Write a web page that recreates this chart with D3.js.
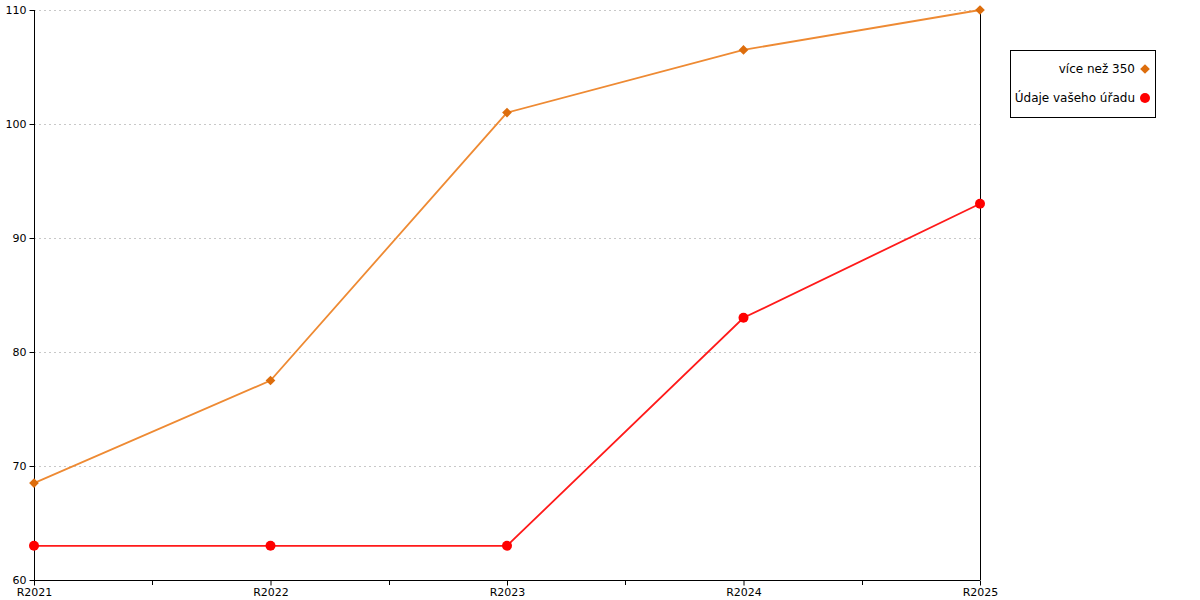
<!DOCTYPE html>
<html><head><meta charset="utf-8">
<script src="https://cdn.jsdelivr.net/npm/d3@7"></script>
<style>body{margin:0;background:#fff}svg{display:block}</style>
</head><body>
<svg id="c" width="1200" height="600"></svg>
<script>
const categories = ["R2021","R2022","R2023","R2024","R2025"];
const seriesNames = ["více než 350","Údaje vašeho úřadu"];
const orangeValues = [68.5, 77.5, 101, 106.5, 110];
const redValues = [63, 63, 63, 83, 93];
const yTicks = [60,70,80,90,100,110];

const svg = d3.select("#c");
const L=34,R=980,T=10,B=580;
const font = "DejaVu Sans, Verdana, sans-serif";
const x = d3.scalePoint().domain(categories).range([L,R]);
const y = d3.scaleLinear().domain([60,110]).range([B,T]);

// grid
svg.append("g").selectAll("line").data(yTicks.filter(d=>d>60)).join("line")
  .attr("x1",L).attr("x2",R).attr("y1",d=>y(d)+0.5).attr("y2",d=>y(d)+0.5)
  .attr("stroke","#c8c8c8").attr("stroke-dasharray","2,3");

// y axis
const ya = svg.append("g").attr("transform",`translate(${L+0.5},0)`)
  .call(d3.axisLeft(y).tickValues(yTicks).tickSize(5).tickPadding(3));
ya.select(".domain").attr("d",`M0,${T}V${B}`);
ya.selectAll("text").style("font-family",font).style("font-size","11px").attr("fill","#000");

// right line
svg.append("line").attr("x1",R+0.5).attr("x2",R+0.5).attr("y1",T).attr("y2",B).attr("stroke","#000");

// x axis
const xa = svg.append("g").attr("transform",`translate(0,${B+0.5})`)
  .call(d3.axisBottom(x).tickSize(5).tickPadding(3));
xa.select(".domain").attr("d",`M${L},0H${R}`);
xa.selectAll("text").style("font-family",font).style("font-size","11px").attr("fill","#000");
// minor ticks
const mids = categories.slice(0,-1).map((c,i)=>(x(c)+x(categories[i+1]))/2);
svg.append("g").selectAll("line").data(mids).join("line")
  .attr("x1",d=>Math.round(d)+0.5).attr("x2",d=>Math.round(d)+0.5).attr("y1",B).attr("y2",B+5).attr("stroke","#000");

const line = d3.line().x((d,i)=>x(categories[i])).y(d=>y(d));
svg.append("path").datum(orangeValues).attr("d",line).attr("fill","none").attr("stroke","#ee8a33").attr("stroke-width",1.8);
svg.append("path").datum(redValues).attr("d",line).attr("fill","none").attr("stroke","#ff1a1a").attr("stroke-width",1.8);

const diamond = d3.symbol().type(d3.symbolDiamond2).size(60);
svg.append("g").selectAll("path").data(orangeValues).join("path")
  .attr("transform",(d,i)=>`translate(${x(categories[i])},${y(d)})`)
  .attr("d",diamond).attr("fill","#dd6d0c");
svg.append("g").selectAll("circle").data(redValues).join("circle")
  .attr("cx",(d,i)=>x(categories[i])).attr("cy",d=>y(d)).attr("r",5).attr("fill","#ff0000");

// legend
const lg = svg.append("g");
lg.append("rect").attr("x",1010.5).attr("y",50.5).attr("width",145).attr("height",67).attr("fill","#fff").attr("stroke","#000");
lg.append("text").attr("x",1135).attr("y",73).attr("text-anchor","end").style("font-family",font).style("font-size","12px").text(seriesNames[0]);
lg.append("path").attr("transform","translate(1145,69)").attr("d",diamond).attr("fill","#dd6d0c");
lg.append("text").attr("x",1135).attr("y",102).attr("text-anchor","end").style("font-family",font).style("font-size","12px").text(seriesNames[1]);
lg.append("circle").attr("cx",1145).attr("cy",98).attr("r",5).attr("fill","#ff0000");
</script>
</body></html>
